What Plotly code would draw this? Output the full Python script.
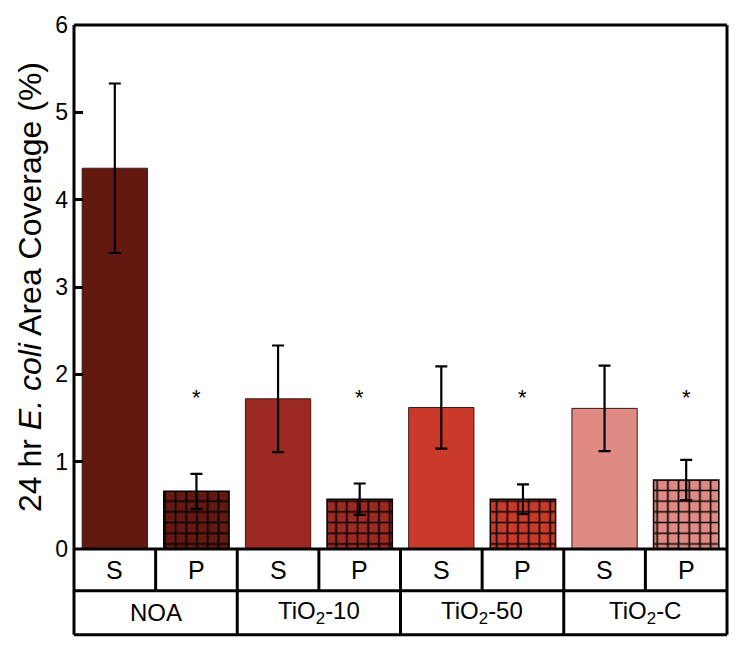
import plotly.graph_objects as go

groups = ["NOA", "TiO<sub>2</sub>-10", "TiO<sub>2</sub>-50", "TiO<sub>2</sub>-C"]
conditions = ["S", "P"]
s_values = [4.36, 1.72, 1.62, 1.61]
s_errors = [0.97, 0.61, 0.47, 0.49]
p_values = [0.66, 0.57, 0.57, 0.79]
p_errors = [0.20, 0.18, 0.17, 0.23]
star_labels = ["*", "*", "*", "*"]
colors = ["#631810", "#9c2a22", "#c93a2b", "#e08a84"]
y_ticks = [0, 1, 2, 3, 4, 5, 6]

x_s = [2 * i for i in range(len(groups))]
x_p = [2 * i + 1 for i in range(len(groups))]

fig = go.Figure()
for i in range(len(groups)):
    fig.add_trace(go.Bar(
        x=[x_s[i]], y=[s_values[i]], width=0.8,
        marker=dict(color=colors[i], line=dict(color="#3a1a15", width=1)),
        error_y=dict(type="data", array=[s_errors[i]], color="black", thickness=2.2, width=6),
        showlegend=False,
    ))
    fig.add_trace(go.Bar(
        x=[x_p[i]], y=[p_values[i]], width=0.8,
        marker=dict(color=colors[i], line=dict(color="black", width=1.5),
                    pattern=dict(shape="+", fillmode="replace", fgcolor="black", bgcolor=colors[i],
                                 fgopacity=1, size=10.7, solidity=0.28)),
        error_y=dict(type="data", array=[p_errors[i]], color="black", thickness=2.2, width=6),
        showlegend=False,
    ))

ann = []
for xi, lbl in zip(x_p, star_labels):
    ann.append(dict(x=xi, y=1.73, text=lbl, showarrow=False, font=dict(size=22, color="black"),
                    xref="x", yref="y"))

row1_bot = -0.0798
row2_bot = -0.1635
shapes = []
LW = 3
shapes.append(dict(type="line", xref="paper", yref="paper", x0=0, x1=1, y0=1, y1=1, line=dict(color="black", width=LW)))
shapes.append(dict(type="line", xref="paper", yref="paper", x0=0, x1=0, y0=1, y1=row2_bot, line=dict(color="black", width=LW)))
shapes.append(dict(type="line", xref="paper", yref="paper", x0=1, x1=1, y0=1, y1=row2_bot, line=dict(color="black", width=LW)))
shapes.append(dict(type="line", xref="paper", yref="paper", x0=0, x1=1, y0=0, y1=0, line=dict(color="black", width=LW)))
shapes.append(dict(type="line", xref="paper", yref="paper", x0=0, x1=1, y0=row1_bot, y1=row1_bot, line=dict(color="black", width=LW)))
shapes.append(dict(type="line", xref="paper", yref="paper", x0=0, x1=1, y0=row2_bot, y1=row2_bot, line=dict(color="black", width=LW)))
n = 2 * len(groups)
for k in range(1, n):
    y_end = row2_bot if k % 2 == 0 else row1_bot
    shapes.append(dict(type="line", xref="x", yref="paper", x0=k - 0.5, x1=k - 0.5, y0=0, y1=y_end,
                       line=dict(color="black", width=LW)))

for i, g in enumerate(groups):
    for j, c in enumerate(conditions):
        ann.append(dict(x=2 * i + j, y=row1_bot / 2, xref="x", yref="paper", text=c, showarrow=False,
                        xanchor="center", yanchor="middle", font=dict(size=25, color="black")))
    ann.append(dict(x=2 * i + 0.5, y=(row1_bot + row2_bot) / 2, xref="x", yref="paper", text=g,
                    showarrow=False, xanchor="center", yanchor="middle",
                    font=dict(size=24, color="black")))

fig.update_layout(
    width=741, height=650,
    margin=dict(l=74, r=14, t=23, b=101),
    paper_bgcolor="white", plot_bgcolor="white",
    font=dict(family="Liberation Sans, Arial, sans-serif", color="black"),
    barmode="overlay",
    annotations=ann, shapes=shapes,
    xaxis=dict(range=[-0.5, n - 0.5], showticklabels=False, showgrid=False, zeroline=False,
               showline=False, ticks=""),
    yaxis=dict(range=[0, 6], tickvals=y_ticks, ticks="inside", ticklen=9, tickwidth=3,
               tickcolor="black", showgrid=False, zeroline=False, showline=False,
               tickfont=dict(size=23), ticklabelstandoff=5,
               title=dict(text="24 hr <i>E. coli</i> Area Coverage (%)", font=dict(size=32), standoff=4)),
)

fig.write_html("out.html", config={"displayModeBar": False},
               post_script="document.body.style.margin='0';document.body.style.padding='0';")
